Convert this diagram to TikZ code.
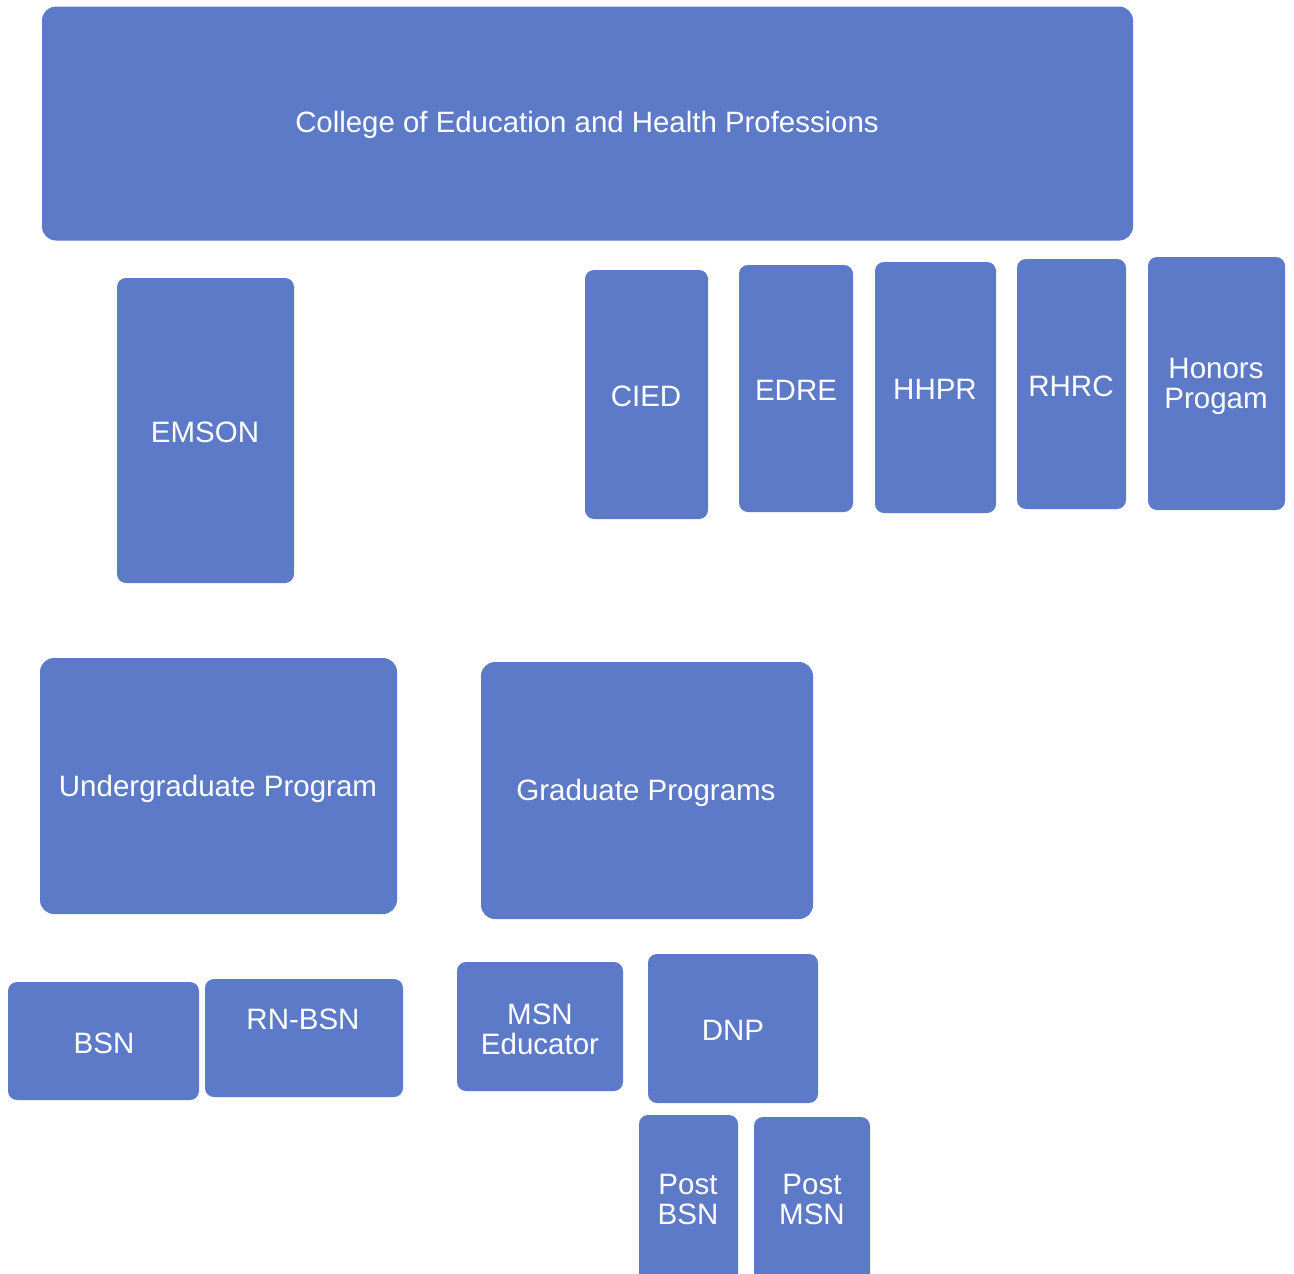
\documentclass[tikz,border=0pt]{standalone}
\usepackage{fontspec}
\setmainfont{Liberation Sans}
\definecolor{unitblue}{RGB}{92,122,199}
\begin{document}
\begin{tikzpicture}[x=1pt,y=-1pt,
  unit/.style={fill=unitblue,draw=none,rounded corners=9pt,inner sep=0pt},
  bigunit/.style={unit,rounded corners=14pt},
  lbl/.style={text=white,align=center,font=\fontsize{29.5}{30}\selectfont,inner sep=0pt,yshift=-3pt}]
\useasboundingbox (0,0) rectangle (1294,1274);
% college
\node[bigunit,minimum width=1091pt,minimum height=234pt] (coll) at (587.5,123.5) {};
\node[lbl,font=\fontsize{29.4}{30}\selectfont] (collT) at (587,122) {College of Education and Health Professions};
% nursing school
\node[unit,minimum width=177pt,minimum height=305pt] (emson) at (205.5,430.5) {};
\node[lbl] (emsonT) at (205,429) {EMSON};
% departments
\node[unit,minimum width=123pt,minimum height=249pt] (cied) at (646.5,394.5) {};
\node[lbl] (ciedT) at (646,393) {CIED};
\node[unit,minimum width=114pt,minimum height=247pt] (edre) at (796,388.5) {};
\node[lbl] (edreT) at (796,387) {EDRE};
\node[unit,minimum width=121pt,minimum height=251pt] (hhpr) at (935.5,387.5) {};
\node[lbl] (hhprT) at (935,386) {HHPR};
\node[unit,minimum width=109pt,minimum height=250pt] (rhrc) at (1071.5,384) {};
\node[lbl] (rhrcT) at (1071,383) {RHRC};
\node[unit,minimum width=137pt,minimum height=253pt] (hon) at (1216.5,383.5) {};
\node[lbl] (honT) at (1216,383) {Honors\\Progam};
% programs
\node[bigunit,minimum width=357pt,minimum height=256pt] (ug) at (218.5,786) {};
\node[lbl] (ugT) at (218,786) {Undergraduate Program};
\node[bigunit,minimum width=332pt,minimum height=257pt] (gr) at (647,790.5) {};
\node[lbl] (grT) at (646,790) {Graduate Programs};
% undergraduate tracks
\node[unit,minimum width=191pt,minimum height=118pt] (bsn) at (103.5,1041) {};
\node[lbl] (bsnT) at (104,1040) {BSN};
\node[unit,minimum width=198pt,minimum height=118pt] (rnbsn) at (304,1038) {};
\node[lbl] (rnbsnT) at (303,1016) {RN-BSN};
% graduate tracks
\node[unit,minimum width=166pt,minimum height=129pt] (msn) at (540,1026.5) {};
\node[lbl] (msnT) at (540,1026) {MSN\\Educator};
\node[unit,minimum width=170pt,minimum height=149pt] (dnp) at (733,1028.5) {};
\node[lbl] (dnpT) at (733,1027) {DNP};
\node[unit,minimum width=99pt,minimum height=175pt] (pbsn) at (688.5,1202.5) {};
\node[lbl] (pbsnT) at (688,1196) {Post\\BSN};
\node[unit,minimum width=116pt,minimum height=173pt] (pmsn) at (812,1203.5) {};
\node[lbl] (pmsnT) at (812,1196) {Post\\MSN};
\end{tikzpicture}
\end{document}
